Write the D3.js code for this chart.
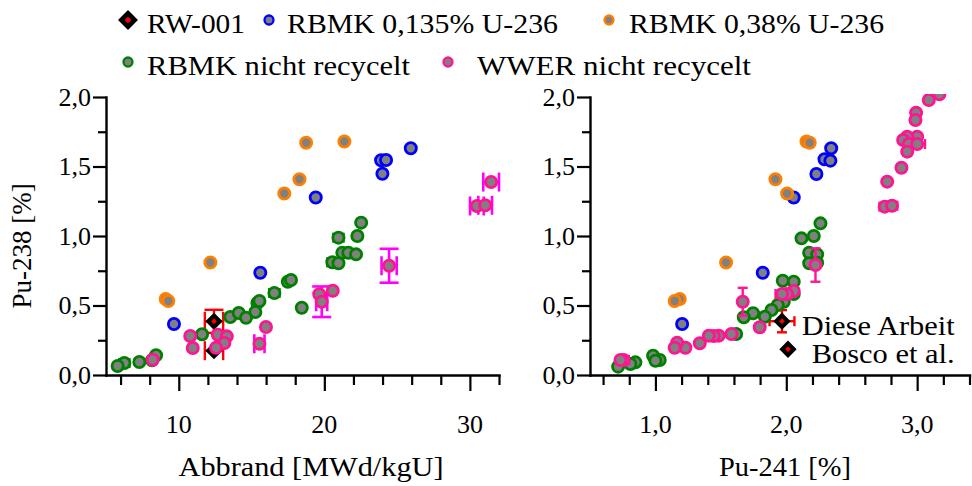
<!DOCTYPE html>
<html>
<head>
<meta charset="utf-8">
<script src="https://cdn.jsdelivr.net/npm/d3@7"></script>
<style>
  body { margin: 0; background: #fff; }
  svg { display: block; }
</style>
</head>
<body>
<svg id="chart" width="972" height="486"></svg>
<script>
// ---------- data: [x, Pu-238 %] pairs ----------
// Abbrand [MWd/kgU] panel
const rbmk0135Abbrand = [[25.94,1.631],[23.90,1.545],[24.24,1.547],[23.99,1.448],[19.41,1.277],[15.60,0.736],[9.67,0.367]];
const rbmk038Abbrand  = [[18.75,1.671],[21.38,1.680],[18.29,1.408],[17.25,1.306],[12.17,0.809],[9.10,0.547],[9.28,0.532]];
const rbmkNrAbbrand   = [[22.53,1.096],[22.27,1.000],[20.97,0.988],[21.24,0.880],[21.65,0.880],[22.18,0.868],
                         [20.55,0.811],[20.97,0.804],[17.49,0.671],[17.71,0.683],[16.57,0.590],[18.45,0.484],
                         [15.40,0.518],[15.54,0.532],[15.26,0.453],[13.54,0.417],[14.12,0.446],[14.62,0.412],
                         [11.60,0.293],[8.44,0.142],[8.16,0.106],[7.29,0.094],[6.26,0.086],[5.80,0.065]];
const wwerNrAbbrand   = [[31.46,1.388],[30.48,1.216],[31.05,1.221],[24.45,0.786],[20.58,0.606],[19.65,0.581],
                         [19.82,0.527],[15.99,0.345],[15.54,0.225],[10.79,0.281],[10.96,0.194],[12.68,0.290],
                         [13.30,0.278],[13.13,0.230],[12.56,0.196],[8.21,0.110]];
// error bars: [x, y, ±x, ±y]
const rbmkNrAbbrandErr = [[20.97,0.988,0.35,0],[20.55,0.811,0.35,0],[16.57,0.590,0.35,0],[6.26,0.086,0.35,0]];
const wwerNrAbbrandErr = [[31.46,1.388,0.54,0],[30.48,1.216,0.47,0],[31.05,1.221,0.47,0],
                          [24.45,0.786,0.52,0.122],[19.82,0.527,0.38,0.11],[15.54,0.225,0.35,0]];
const rw001Abbrand = [[12.42,0.386,0.63,0.083],[12.42,0.175,0.63,0]];

// Pu-241 [%] panel
const rbmk0135Pu241 = [[2.343,1.631],[2.292,1.552],[2.337,1.542],[2.230,1.446],[2.057,1.277],[1.820,0.736],[1.204,0.367]];
const rbmk038Pu241  = [[2.154,1.680],[2.179,1.671],[1.917,1.408],[2.006,1.306],[1.540,0.809],[1.186,0.547],[1.147,0.532]];
const rbmkNrPu241   = [[2.261,1.091],[2.210,1.000],[2.116,0.983],[2.175,0.880],[2.236,0.868],[2.175,0.804],
                       [2.236,0.808],[1.973,0.678],[2.057,0.671],[2.057,0.583],[1.981,0.527],[1.935,0.504],
                       [1.887,0.468],[1.836,0.419],[1.746,0.444],[1.675,0.415],[1.617,0.295],[0.982,0.139],
                       [1.033,0.108],[1.000,0.103],[0.847,0.091],[0.809,0.079],[0.715,0.060]];
const wwerNrPu241   = [[3.17,2.02],[3.089,1.978],[2.992,1.887],[2.987,1.835],[3.000,1.714],[2.924,1.714],
                       [2.893,1.691],[2.936,1.662],[3.000,1.662],[2.924,1.607],[2.880,1.491],[2.771,1.391],
                       [2.752,1.211],[2.808,1.218],[2.223,0.791],[2.057,0.604],[2.006,0.583],[1.968,0.583],
                       [1.667,0.527],[1.797,0.343],[1.581,0.295],[1.484,0.283],[1.446,0.281],[1.408,0.283],
                       [1.339,0.228],[1.229,0.196],[1.166,0.232],[1.147,0.196],[0.758,0.108],[0.733,0.108]];
const wwerNrPu241Err = [[2.752,1.211,0.04,0],[2.808,1.218,0.04,0],[2.924,1.607,0.03,0],[3.000,1.662,0.06,0],
                        [2.223,0.791,0,0.12],[1.968,0.583,0.05,0],[1.667,0.527,0,0.10],[1.797,0.343,0.03,0],
                        [0.752,0.108,0.045,0]];
const rw001Pu241 = [[1.967,0.387,0.095,0.08],[2.013,0.185,0,0]];

// ticks and labels
const yMajor = [0, 0.5, 1.0, 1.5, 2.0];
const yMinor = [0.25, 0.75, 1.25, 1.75];
const xLeftMajor = [10, 20, 30];
const xLeftMinor = [6, 8, 12, 14, 16, 18, 22, 24, 26, 28, 32];
const xRightMajor = [1.0, 2.0, 3.0];
const xRightMinor = [0.6, 0.8, 1.2, 1.4, 1.6, 1.8, 2.2, 2.4, 2.6, 2.8, 3.2, 3.4];
const legendLabels = ["RW-001", "RBMK 0,135% U-236", "RBMK 0,38% U-236", "RBMK nicht recycelt", "WWER nicht recycelt"];

const C = { blue: "#0000ff", orange: "#ff8000", green: "#008000", pink: "#ff1493",
            magenta: "#ff00ff", red: "#ff0000", fill: "#808080" };

// pick the first installed serif face (canvas width test against generic fallbacks)
function pickSerif() {
  const cands = ["Liberation Serif", "DejaVu Serif", "Noto Serif", "Tinos", "Times New Roman",
                 "Nimbus Roman", "FreeSerif", "Latin Modern Roman", "CMU Serif"];
  const ctx = document.createElement("canvas").getContext("2d");
  const probe = "RBMK nicht recycelt 0,135% Wg";
  const w = f => { ctx.font = "40px " + f; return ctx.measureText(probe).width; };
  const mono = w("monospace"), sans = w("sans-serif");
  for (const c of cands) {
    const a = w(`"${c}", monospace`), b = w(`"${c}", sans-serif`);
    if (a !== mono && b !== sans) return `"${c}"`;
    if (a === b && a !== mono) return `"${c}"`;
  }
  return "serif";
}
const FONT = pickSerif();

const svg = d3.select("#chart").style("font-family", FONT);
const comma = v => d3.format(".1f")(v).replace(".", ",");

const y = d3.scaleLinear().domain([0, 2]).range([375, 97]);
const xL = d3.scaleLinear().domain([5, 32]).range([106, 499]);
const xR = d3.scaleLinear().domain([0.5, 3.4]).range([590, 969.5]);

svg.append("defs").append("clipPath").attr("id", "clipR")
  .append("rect").attr("x", 585).attr("y", y(2) - 3).attr("width", 390).attr("height", 300);

function styleAxis(g) {
  g.selectAll("path.domain").attr("stroke", "#000").attr("stroke-width", 2.4).attr("stroke-linecap", "square");
  g.selectAll(".tick line").attr("stroke", "#000").attr("stroke-width", 2.2);
  g.selectAll(".tick text").remove();
}

function addText(sel) {
  return sel.append("text").style("font-family", FONT).attr("fill", "#000");
}

function drawAxes(x, majors, minors, labelFmt) {
  const g = svg.append("g");
  g.append("g").attr("transform", `translate(0,${y(0)})`)
    .call(d3.axisBottom(x).tickValues(minors).tickSize(10).tickSizeOuter(0).tickFormat(""))
    .call(a => a.select(".domain").remove()).call(styleAxis);
  g.append("g").attr("transform", `translate(0,${y(0)})`)
    .call(d3.axisBottom(x).tickValues(majors).tickSize(16).tickSizeOuter(0).tickFormat(""))
    .call(styleAxis);
  const x0 = x.range()[0];
  g.append("g").attr("transform", `translate(${x0},0)`)
    .call(d3.axisLeft(y).tickValues(yMinor).tickSize(8).tickSizeOuter(0).tickFormat(""))
    .call(a => a.select(".domain").remove()).call(styleAxis);
  g.append("g").attr("transform", `translate(${x0},0)`)
    .call(d3.axisLeft(y).tickValues(yMajor).tickSize(13).tickSizeOuter(0).tickFormat(""))
    .call(styleAxis);
  majors.forEach(d => addText(g).attr("x", x(d)).attr("y", 433).attr("text-anchor", "middle")
    .attr("font-size", 26).text(labelFmt(d)));
  yMajor.forEach(d => addText(g).attr("x", x0 - 15).attr("y", y(d) + 8.5).attr("text-anchor", "end")
    .attr("font-size", 26).text(comma(d)));
}

function drawErr(g, x, data, color, cap, sw) {
  const eg = g.append("g").attr("stroke", color).attr("stroke-width", sw).attr("fill", "none");
  data.forEach(d => {
    const [vx, vy, ex, ey] = d;
    if (ex > 0) {
      eg.append("line").attr("x1", x(vx - ex)).attr("x2", x(vx + ex)).attr("y1", y(vy)).attr("y2", y(vy));
      [vx - ex, vx + ex].forEach(e => eg.append("line").attr("x1", x(e)).attr("x2", x(e))
        .attr("y1", y(vy) - cap / 2).attr("y2", y(vy) + cap / 2));
    }
    if (ey > 0) {
      eg.append("line").attr("x1", x(vx)).attr("x2", x(vx)).attr("y1", y(vy - ey)).attr("y2", y(vy + ey));
      [vy - ey, vy + ey].forEach(e => eg.append("line").attr("y1", y(e)).attr("y2", y(e))
        .attr("x1", x(vx) - cap / 2).attr("x2", x(vx) + cap / 2));
    }
  });
}

function drawPoints(g, x, data, color) {
  g.append("g").selectAll("circle").data(data).join("circle")
    .attr("cx", d => x(d[0])).attr("cy", d => y(d[1])).attr("r", 5.6)
    .attr("fill", C.fill).attr("stroke", color).attr("stroke-width", 2.8);
}

const diamond = d3.symbol(d3.symbolSquare).size(150)();
const diamondIn = d3.symbol(d3.symbolSquare).size(16)();
function drawDiamonds(g, x, data, s = 1) {
  const dg = g.append("g");
  dg.selectAll("path.o").data(data).join("path").attr("class", "o")
    .attr("d", diamond).attr("fill", "#000")
    .attr("transform", d => `translate(${x(d[0])},${y(d[1])}) rotate(45) scale(${s})`);
  dg.selectAll("path.i").data(data).join("path").attr("class", "i")
    .attr("d", diamondIn).attr("fill", C.red)
    .attr("transform", d => `translate(${x(d[0])},${y(d[1])}) rotate(45) scale(${s})`);
}

// ---------- left panel: Abbrand ----------
drawAxes(xL, xLeftMajor, xLeftMinor, d => String(d));
const gL = svg.append("g");
drawErr(gL, xL, rw001Abbrand, C.red, 19, 2.4);
drawDiamonds(gL, xL, rw001Abbrand);
drawPoints(gL, xL, rbmk0135Abbrand, C.blue);
drawPoints(gL, xL, rbmk038Abbrand, C.orange);
drawErr(gL, xL, rbmkNrAbbrandErr, C.green, 10, 2.4);
drawPoints(gL, xL, rbmkNrAbbrand, C.green);
drawErr(gL, xL, wwerNrAbbrandErr, C.magenta, 19, 2.6);
drawPoints(gL, xL, wwerNrAbbrand, C.pink);

// ---------- right panel: Pu-241 ----------
drawAxes(xR, xRightMajor, xRightMinor, comma);
const gR = svg.append("g").attr("clip-path", "url(#clipR)");
drawErr(gR, xR, rw001Pu241, C.red, 10, 2.4);
drawDiamonds(gR, xR, rw001Pu241);
drawPoints(gR, xR, rbmk0135Pu241, C.blue);
drawPoints(gR, xR, rbmk038Pu241, C.orange);
drawPoints(gR, xR, rbmkNrPu241, C.green);
drawErr(gR, xR, wwerNrPu241Err, C.pink, 10, 2.4);
drawPoints(gR, xR, wwerNrPu241, C.pink);

addText(svg).attr("x", 801.7).attr("y", 335).attr("font-size", 28)
  .attr("textLength", 153).attr("lengthAdjust", "spacingAndGlyphs").text("Diese Arbeit");
addText(svg).attr("x", 811.7).attr("y", 363).attr("font-size", 28)
  .attr("textLength", 143).attr("lengthAdjust", "spacingAndGlyphs").text("Bosco et al.");

// ---------- axis titles ----------
addText(svg).attr("transform", "translate(31,246) rotate(-90)").attr("text-anchor", "middle")
  .attr("font-size", 27).text("Pu-238 [%]");
addText(svg).attr("x", 311).attr("y", 476).attr("text-anchor", "middle").attr("font-size", 27)
  .attr("textLength", 265).attr("lengthAdjust", "spacingAndGlyphs").text("Abbrand [MWd/kgU]");
addText(svg).attr("x", 785).attr("y", 476).attr("text-anchor", "middle").attr("font-size", 27)
  .attr("textLength", 132).attr("lengthAdjust", "spacingAndGlyphs").text("Pu-241 [%]");

// ---------- legend ----------
const legendItems = [
  { kind: "diamond", mx: 128, my: 20, tx: 147, ty: 33, len: 98 },
  { kind: "circle", color: C.blue, mx: 269, my: 20, tx: 287, ty: 33, len: 271 },
  { kind: "circle", color: C.orange, mx: 609, my: 20, tx: 629, ty: 33, len: 255 },
  { kind: "circle", color: C.green, mx: 128, my: 62, tx: 147, ty: 75, len: 263 },
  { kind: "circle", color: C.pink, mx: 448, my: 62, tx: 477, ty: 75, len: 274 }
];
const lg = svg.append("g");
legendItems.forEach((it, i) => {
  if (it.kind === "diamond") {
    lg.append("path").attr("d", diamond).attr("fill", "#000")
      .attr("transform", `translate(${it.mx},${it.my}) rotate(45) scale(1.15)`);
    lg.append("path").attr("d", diamondIn).attr("fill", C.red)
      .attr("transform", `translate(${it.mx},${it.my}) rotate(45) scale(1.15)`);
  } else {
    lg.append("circle").attr("cx", it.mx).attr("cy", it.my).attr("r", 4.5)
      .attr("fill", C.fill).attr("stroke", it.color).attr("stroke-width", 2.3);
  }
  addText(lg).attr("x", it.tx).attr("y", it.ty).attr("font-size", 27)
    .attr("textLength", it.len).attr("lengthAdjust", "spacingAndGlyphs").text(legendLabels[i]);
});
</script>
</body>
</html>
